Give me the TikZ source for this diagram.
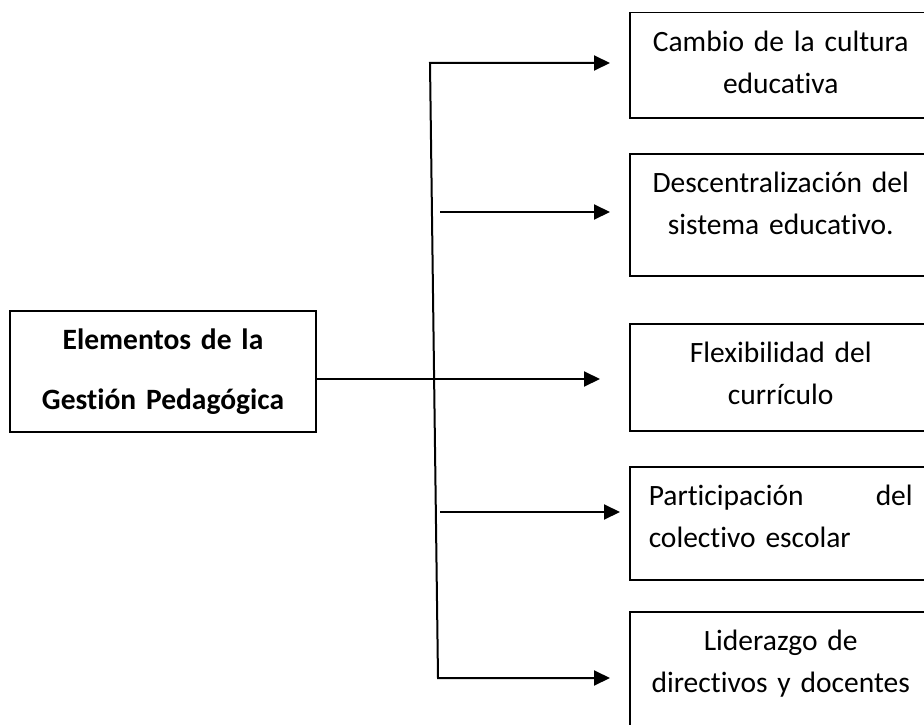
\documentclass[tikz,border=0pt]{standalone}
\usepackage{fontspec}
\setmainfont{Carlito}[RawFeature=-liga]
\usetikzlibrary{arrows.meta,positioning}

\tikzset{
  caja/.style={draw, line width=1.5pt, minimum width=302pt, anchor=north west, inner sep=0pt},
  texto/.style={text width=264pt, align=center, inner sep=0pt,
    font=\fontsize{29.5}{41.5}\selectfont},
  flecha/.style={<->, line width=2pt}
}

\begin{document}
\begin{tikzpicture}[%
       x=1pt, y=-1pt,
       >={Triangle[length=16pt,width=15pt]},
       node distance=19pt
     ]
     \useasboundingbox (0,0) rectangle (924,725);
     \clip (0,0) rectangle (924,725);

     % caja principal
     \node[draw, line width=1.5pt, minimum width=306pt, minimum height=121pt,
           text width=290pt, align=center, inner sep=0pt,
           font=\bfseries\fontsize{29.5}{60}\selectfont]
           (elem) at (163,371.5) {Elementos de la\\Gestión Pedagógica};

     % cajas de la derecha
     \node[caja, minimum height=105pt] (b1) at (629,12)  {};
     \node[caja, minimum height=122pt] (b2) at (629,153) {};
     \node[caja, minimum height=107pt] (b3) at (629,323) {};
     \node[caja, minimum height=113pt] (b4) at (629,466) {};
     \node[caja, minimum height=140pt] (b5) at (629,611) {};

     \node[texto] (t1) [below=of b1.north] {Cambio de la cultura\\educativa};
     \node[texto] (t2) [below=of b2.north] {Descentralización del\\sistema educativo.};
     \node[texto] (t3) [below=of b3.north] {Flexibilidad del\\currículo};
     \node[texto, align=left] (t4) [below=of b4.north] {Participación\hfill del\\colectivo escolar};
     \node[texto] (t5) [below=of b5.north] {Liderazgo de\\directivos y docentes};

     % flechas
     \coordinate (tt) at (430,63);
     \coordinate (tb) at (438,678);
     \coordinate (a1) at (610,63);
     \coordinate (s2) at (440,212);
     \coordinate (a2) at (610,212);
     \coordinate (a3) at (600,379);
     \coordinate (s4) at (440,512);
     \coordinate (a4) at (620,512);
     \coordinate (a5) at (610,678);

     \draw[flecha] (a1) -- (tt) -- (tb) -- (a5);
     \draw[flecha, <-] (a2) -- (s2);
     \draw[flecha, ->] (elem.east |- a3) -- (a3);
     \draw[flecha, <-] (a4) -- (s4);
\end{tikzpicture}
\end{document}
